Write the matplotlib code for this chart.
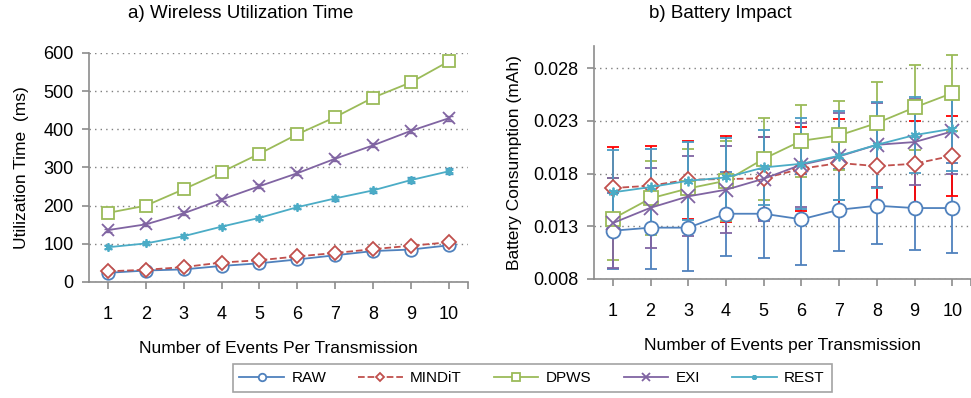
import numpy as np
import matplotlib
matplotlib.use("Agg")
import matplotlib.pyplot as plt

plt.rcParams['font.family'] = ['Liberation Sans', 'DejaVu Sans']

events = np.arange(1, 11)

# a) wireless utilization time (ms)
util_raw = [24, 30, 33, 42, 49, 59, 70, 81, 85, 96]
util_mindit = [28, 32, 39, 51, 57, 67, 76, 86, 95, 104]
util_dpws = [181, 200, 243, 288, 336, 387, 432, 483, 523, 578]
util_exi = [136, 151, 180, 216, 251, 285, 323, 358, 396, 429]
util_rest = [91, 101, 120, 145, 168, 196, 219, 240, 267, 290]
util_rest_err = [5, 5, 5, 5, 5, 5, 6, 6, 8, 8]
util_exi_err = [4, 4, 5, 5, 5, 5, 5, 5, 6, 6]

# b) battery consumption (mAh)
bat_raw = [0.01258, 0.01287, 0.01287, 0.01419, 0.01419, 0.01366, 0.01457, 0.01495, 0.01473, 0.01473]
bat_raw_err = [0.0036, 0.0039, 0.0041, 0.0040, 0.0042, 0.0043, 0.0039, 0.0036, 0.0040, 0.0043]
bat_mindit = [0.01663, 0.01685, 0.01742, 0.01748, 0.01755, 0.01846, 0.0190, 0.01871, 0.01893, 0.01969]
bat_mindit_err = [0.0039, 0.0038, 0.0037, 0.0041, 0.0039, 0.0040, 0.0042, 0.0040, 0.0041, 0.0038]
bat_dpws = [0.01372, 0.01565, 0.01659, 0.01732, 0.0194, 0.02111, 0.02162, 0.02279, 0.02427, 0.02563]
bat_dpws_err = [0.0039, 0.0035, 0.0037, 0.0038, 0.0039, 0.0034, 0.0033, 0.0039, 0.0040, 0.0036]
bat_exi = [0.01331, 0.01476, 0.01584, 0.01647, 0.01751, 0.01884, 0.01963, 0.02073, 0.02099, 0.022]
bat_exi_err = [0.0043, 0.0038, 0.0038, 0.0041, 0.0040, 0.0040, 0.0041, 0.0040, 0.0041, 0.0040]
bat_rest = [0.01622, 0.01672, 0.01732, 0.01763, 0.01858, 0.01893, 0.01969, 0.02073, 0.02165, 0.02225]
bat_rest_err = [0.0040, 0.0036, 0.0037, 0.0037, 0.0036, 0.0043, 0.0042, 0.0041, 0.0036, 0.0040]

labels = ['RAW', 'MINDiT', 'DPWS', 'EXI', 'REST']
colors = ['#4F81BD', '#C0504D', '#9BBB59', '#8064A2', '#4BACC6']
err_colors = ['#4F81BD', '#FF0000', '#9BBB59', '#8064A2', '#4A9BC4']
markers = ['o', 'D', 's', 'x', (6, 2, 0)]
msizes = [9, 7, 9, 9, 6]
styles = ['-', '--', '-', '-', '-']

fig = plt.figure(figsize=(9.71, 3.98), dpi=100)
ax1 = fig.add_axes([0.0917, 0.2915, 0.390, 0.5754])
ax2 = fig.add_axes([0.6118, 0.299, 0.3883, 0.5854])


def style_axis(ax):
    for s in ['top', 'right']:
        ax.spines[s].set_visible(False)
    for s in ['left', 'bottom']:
        ax.spines[s].set_color('#8c8c8c')
        ax.spines[s].set_linewidth(1.2)
    ax.yaxis.grid(True, linestyle=(0, (1, 3)), color='#7f7f7f', linewidth=1)
    ax.set_axisbelow(True)
    ax.tick_params(axis='both', colors='#8c8c8c', labelcolor='black', labelsize=13,
                   direction='out', length=5, width=1.2)
    ax.tick_params(axis='y', pad=6)
    ax.tick_params(axis='x', pad=12)
    ax.set_xticks(events)
    ax.set_xticks([10.5], minor=True)
    ax.tick_params(axis='x', which='minor', colors='#8c8c8c', length=5, width=1.2)


util_series = [util_raw, util_mindit, util_dpws, util_exi, util_rest]
util_errs = [None, None, None, util_exi_err, util_rest_err]
for vals, err, lab, c, ec, m, ms, ls in zip(util_series, util_errs, labels, colors,
                                              err_colors, markers, msizes, styles):
    if err is not None:
        ax1.errorbar(events, vals, yerr=err, fmt='none', ecolor=ec, elinewidth=1.2, capsize=3)
    ax1.plot(events, vals, linestyle=ls, color=c, marker=m, markersize=ms,
             markerfacecolor='white', markeredgecolor=c, markeredgewidth=1.3,
             linewidth=1.3, label=lab)

ax1.set_xlim(0.5, 10.5)
ax1.set_ylim(0, 600)
ax1.set_yticks(range(0, 601, 100))
style_axis(ax1)
ax1.set_ylabel('Utilization Time  (ms)', fontsize=12.5, labelpad=10)
ax1.set_xlabel('Number of Events Per Transmission', fontsize=12.5, labelpad=13)

bat_series = [bat_raw, bat_mindit, bat_dpws, bat_exi, bat_rest]
bat_errs = [bat_raw_err, bat_mindit_err, bat_dpws_err, bat_exi_err, bat_rest_err]
for vals, err, c, ec in zip(bat_series, bat_errs, colors, err_colors):
    ax2.errorbar(events, vals, yerr=err, fmt='none', ecolor=ec, elinewidth=1.3, capsize=4,
                 capthick=1.3)
for vals, lab, c, m, ms, ls in zip(bat_series, labels, colors, markers, msizes, styles):
    ax2.plot(events, vals, linestyle=ls, color=c, marker=m, markersize=ms + 1,
             markerfacecolor='white', markeredgecolor=c, markeredgewidth=1.3,
             linewidth=1.3)

ax2.set_xlim(0.5, 10.4)
ax2.set_ylim(0.008, 0.0301)
ax2.set_yticks([0.008, 0.013, 0.018, 0.023, 0.028])
ax2.set_yticklabels(['0.008', '0.013', '0.018', '0.023', '0.028'])
style_axis(ax2)
ax2.set_ylabel('Battery Consumption (mAh)', fontsize=12.5, labelpad=8)
ax2.set_xlabel('Number of Events per Transmission', fontsize=12.5, labelpad=13)

fig.text(241 / 971, 1 - 14 / 398, 'a) Wireless Utilization Time', fontsize=13.5,
         ha='center', va='center')
fig.text(720 / 971, 1 - 14 / 398, 'b) Battery Impact', fontsize=13.5,
         ha='center', va='center')

handles, leg_labels = ax1.get_legend_handles_labels()
leg = fig.legend(handles, leg_labels, loc='lower center', bbox_to_anchor=(0.548, -0.004),
                 ncol=5, fontsize=11, frameon=True, fancybox=False, edgecolor='#8c8c8c',
                 markerscale=0.6, handlelength=2.9, handletextpad=0.5, columnspacing=2.1,
                 borderpad=0.45, borderaxespad=0.5)
leg.get_frame().set_linewidth(1.2)

fig.savefig('out.png', dpi=100)
